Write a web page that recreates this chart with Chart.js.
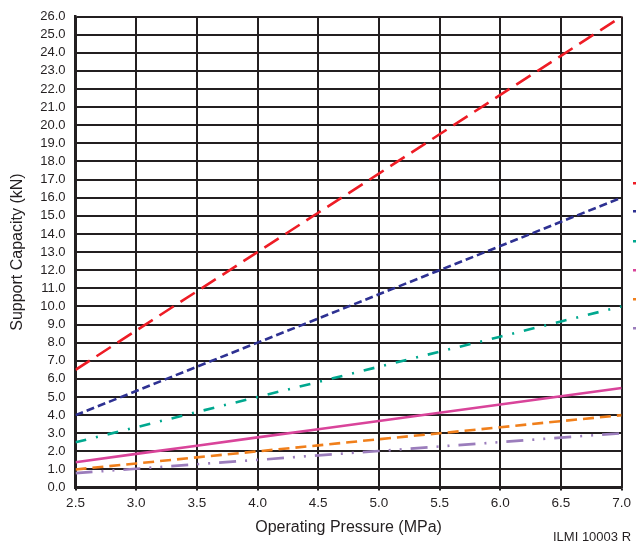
<!DOCTYPE html>
<html>
<head>
<meta charset="utf-8">
<script src="https://cdn.jsdelivr.net/npm/chart.js@4.4.0/dist/chart.umd.min.js"></script>
<style>
html,body{margin:0;padding:0;background:#fff;}
#wrap{position:relative;width:636px;height:543px;overflow:hidden;}
#note{position:absolute;left:553px;top:529px;font:13px "Liberation Sans",Arial,sans-serif;color:#231f20;white-space:nowrap;}
</style>
</head>
<body>
<div id="wrap">
<canvas id="c" width="636" height="543"></canvas>
<div id="note">ILMI 10003 R</div>
</div>
<script>
const pressures = [2.5, 3.0, 3.5, 4.0, 4.5, 5.0, 5.5, 6.0, 6.5, 7.0];
const seriesRed    = [6.5, 8.67, 10.83, 13.0, 15.17, 17.33, 19.5, 21.67, 23.83, 26.0];
const seriesBlue   = [4.0, 5.33, 6.67, 8.0, 9.33, 10.67, 12.0, 13.33, 14.67, 16.0];
const seriesTeal   = [2.5, 3.33, 4.17, 5.0, 5.83, 6.67, 7.5, 8.33, 9.17, 10.0];
const seriesPink   = [1.4, 1.86, 2.31, 2.77, 3.22, 3.68, 4.13, 4.59, 5.04, 5.5];
const seriesOrange = [1.0, 1.33, 1.67, 2.0, 2.33, 2.67, 3.0, 3.33, 3.67, 4.0];
const seriesPurple = [0.8, 1.04, 1.29, 1.53, 1.78, 2.02, 2.27, 2.51, 2.76, 3.0];
const xTicks = [2.5, 3.0, 3.5, 4.0, 4.5, 5.0, 5.5, 6.0, 6.5, 7.0];
const yMin = 0, yMax = 26;
const xTitle = "Operating Pressure (MPa)";
const yTitle = "Support Capacity (kN)";

const FONT = '"Liberation Sans", Arial, sans-serif';
function pts(vals){ return pressures.map((p,i)=>({x:p,y:vals[i]})); }
function ds(label, vals, color, dash){
  return {label, data:pts(vals), borderColor:color, backgroundColor:color,
    borderWidth:2.6, borderDash:dash, pointRadius:0, tension:0, fill:false, borderCapStyle:'butt'};
}
const edgeMarks = {
  id:'edgeMarks',
  afterDraw(chart){
    const ctx = chart.ctx;
    const ys = [183, 211, 241, 270, 299, 328];
    ctx.save();
    chart.data.datasets.forEach((d,i)=>{
      ctx.fillStyle = d.borderColor;
      ctx.fillRect(633, ys[i]-1, 3, 2.5);
    });
    ctx.restore();
  }
};
new Chart(document.getElementById('c'), {
  type:'line',
  data:{datasets:[
    ds('Red', seriesRed, '#ee1c25', [17, 8]),
    ds('Blue', seriesBlue, '#2e3192', [8, 4]),
    ds('Teal', seriesTeal, '#00a88f', [11, 10, 2, 10]),
    ds('Pink', seriesPink, '#d9449a', []),
    ds('Orange', seriesOrange, '#f07f1b', [11, 6]),
    ds('Purple', seriesPurple, '#9b7dbc', [17, 9, 2, 9, 2, 9])
  ]},
  options:{
    responsive:false, animation:false,
    layout:{padding:{top:0, right:10, bottom:6, left:8}},
    plugins:{legend:{display:false}, tooltip:{enabled:false}},
    scales:{
      x:{type:'linear', min:2.5, max:7.0,
        afterBuildTicks(axis){ axis.ticks = xTicks.map(v=>({value:v})); },
        ticks:{callback:v=>Number(v).toFixed(1), color:'#231f20', font:{family:FONT,size:13.5}, padding:5, maxRotation:0, autoSkip:false},
        grid:{color:'#231f20', lineWidth:2, tickLength:3},
        border:{color:'#231f20', width:2.5},
        title:{display:true, text:xTitle, color:'#231f20', font:{family:FONT,size:16}, padding:{top:1,bottom:0}}
      },
      y:{type:'linear', min:yMin, max:yMax,
        ticks:{stepSize:1, autoSkip:false, callback:v=>Number(v).toFixed(1), color:'#231f20', font:{family:FONT,size:13, lineHeight:1.0}, padding:10},
        grid:{color:'#231f20', lineWidth:2, drawTicks:false},
        border:{color:'#231f20', width:2.5},
        title:{display:true, text:yTitle, color:'#231f20', font:{family:FONT,size:16}, padding:{top:0,bottom:3}}
      }
    }
  },
  plugins:[edgeMarks]
});
</script>
</body>
</html>
